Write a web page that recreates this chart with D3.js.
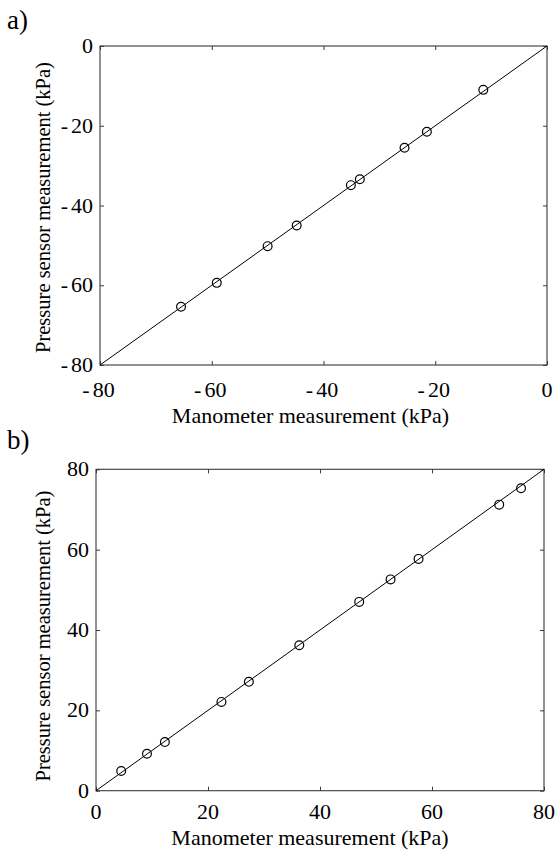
<!DOCTYPE html>
<html><head><meta charset="utf-8">
<script src="https://cdn.jsdelivr.net/npm/d3@7"></script>
<style>
body{margin:0;background:#fff;}
</style></head>
<body>
<svg id="c" width="555" height="851" font-family="'Liberation Serif', 'DejaVu Serif', serif"></svg>
<script>
// Panel a (vacuum)
const aManometer = [-65.5, -59.1, -50.0, -44.8, -35.1, -33.5, -25.5, -21.5, -11.4];
const aSensor    = [-65.4, -59.4, -50.2, -45.0, -34.9, -33.4, -25.5, -21.5, -11.0];
const aTicks = [-80, -60, -40, -20, 0];
const aDomain = [-80, 0];
// Panel b (positive pressure)
const bManometer = [4.5, 9.1, 12.3, 22.4, 27.3, 36.3, 47.0, 52.6, 57.6, 72.0, 75.9];
const bSensor    = [4.9, 9.2, 12.1, 22.1, 27.1, 36.2, 47.0, 52.6, 57.7, 71.2, 75.3];
const bTicks = [0, 20, 40, 60, 80];
const bDomain = [0, 80];

const xLabel = "Manometer measurement (kPa)";
const yLabel = "Pressure sensor measurement (kPa)";

const FONT = "Liberation Serif";
const svg = d3.select("#c");

function txt(sel){ return sel.attr("font-family", FONT).attr("fill", "#000"); }

// write a tick number with a little gap after the minus sign
function tickText(sel){
  sel.each(function(d){
    const t = d3.select(this);
    if (d < 0) {
      t.append("tspan").text("-");
      t.append("tspan").attr("dx", 3).text(String(Math.abs(d)));
    } else {
      t.text(String(d));
    }
  });
}

function panel(cfg){
  const g = svg.append("g");
  const x = d3.scaleLinear().domain(cfg.domain).range([cfg.x0, cfg.x1]);
  const y = d3.scaleLinear().domain(cfg.domain).range([cfg.y1, cfg.y0]);
  const tl = 4;
  g.append("rect").attr("x", cfg.x0).attr("y", cfg.y0)
    .attr("width", cfg.x1 - cfg.x0).attr("height", cfg.y1 - cfg.y0)
    .attr("fill", "none").attr("stroke", "#3a3a3a").attr("stroke-width", 1.1);
  const xa = d3.axisBottom(x).tickValues(cfg.ticks).tickSizeInner(-tl).tickSizeOuter(0).tickFormat("");
  const xt = d3.axisTop(x).tickValues(cfg.ticks).tickSizeInner(-tl).tickSizeOuter(0).tickFormat("");
  const ya = d3.axisLeft(y).tickValues(cfg.ticks).tickSizeInner(-tl).tickSizeOuter(0).tickFormat("");
  const yr = d3.axisRight(y).tickValues(cfg.ticks).tickSizeInner(-tl).tickSizeOuter(0).tickFormat("");
  [[xa, `translate(0,${cfg.y1})`], [xt, `translate(0,${cfg.y0})`],
   [ya, `translate(${cfg.x0},0)`], [yr, `translate(${cfg.x1},0)`]].forEach(([ax, tr]) => {
    const s = g.append("g").attr("transform", tr).call(ax);
    s.select(".domain").remove();
    s.selectAll("line").attr("stroke", "#3a3a3a").attr("stroke-width", 1);
  });
  txt(g.selectAll(".xtl").data(cfg.ticks).join("text")
    .attr("x", d => x(d) - (d < 0 ? 1.5 : 0)).attr("y", cfg.y1 + cfg.xtlOff)
    .attr("text-anchor", "middle").attr("font-size", 22)).call(tickText);
  txt(g.selectAll(".ytl").data(cfg.ticks).join("text")
    .attr("x", cfg.x0 - 7).attr("y", d => y(d) + 7)
    .attr("text-anchor", "end").attr("font-size", 22)).call(tickText);
  g.append("line").attr("x1", x(cfg.domain[0])).attr("y1", y(cfg.domain[0]))
    .attr("x2", x(cfg.domain[1])).attr("y2", y(cfg.domain[1]))
    .attr("stroke", "#000").attr("stroke-width", 1);
  g.selectAll(".pt").data(cfg.mx).join("circle")
    .attr("cx", d => x(d)).attr("cy", (d, i) => y(cfg.my[i]))
    .attr("r", 4.4).attr("fill", "none").attr("stroke", "#000").attr("stroke-width", 1.2);
  txt(g.append("text").attr("x", cfg.xlabX).attr("y", cfg.xlabY)
    .attr("text-anchor", "middle").attr("font-size", 22).text(xLabel));
  txt(g.append("text").attr("transform", `translate(50,${cfg.ylabC}) rotate(-90)`)
    .attr("text-anchor", "middle").attr("font-size", 20.5).text(yLabel));
  txt(g.append("text").attr("x", 7).attr("y", cfg.letterY).attr("font-size", 27).text(cfg.letter));
}

panel({domain: aDomain, ticks: aTicks, mx: aManometer, my: aSensor,
  x0: 100, x1: 547, y0: 46, y1: 365, xtlOff: 32, xlabX: 310.5, xlabY: 423, ylabC: 207.5, letter: "a)", letterY: 29});
panel({domain: bDomain, ticks: bTicks, mx: bManometer, my: bSensor,
  x0: 96, x1: 544, y0: 469.3, y1: 790.7, xtlOff: 28, xlabX: 310, xlabY: 844.5, ylabC: 636, letter: "b)", letterY: 449});
</script>
</body></html>
